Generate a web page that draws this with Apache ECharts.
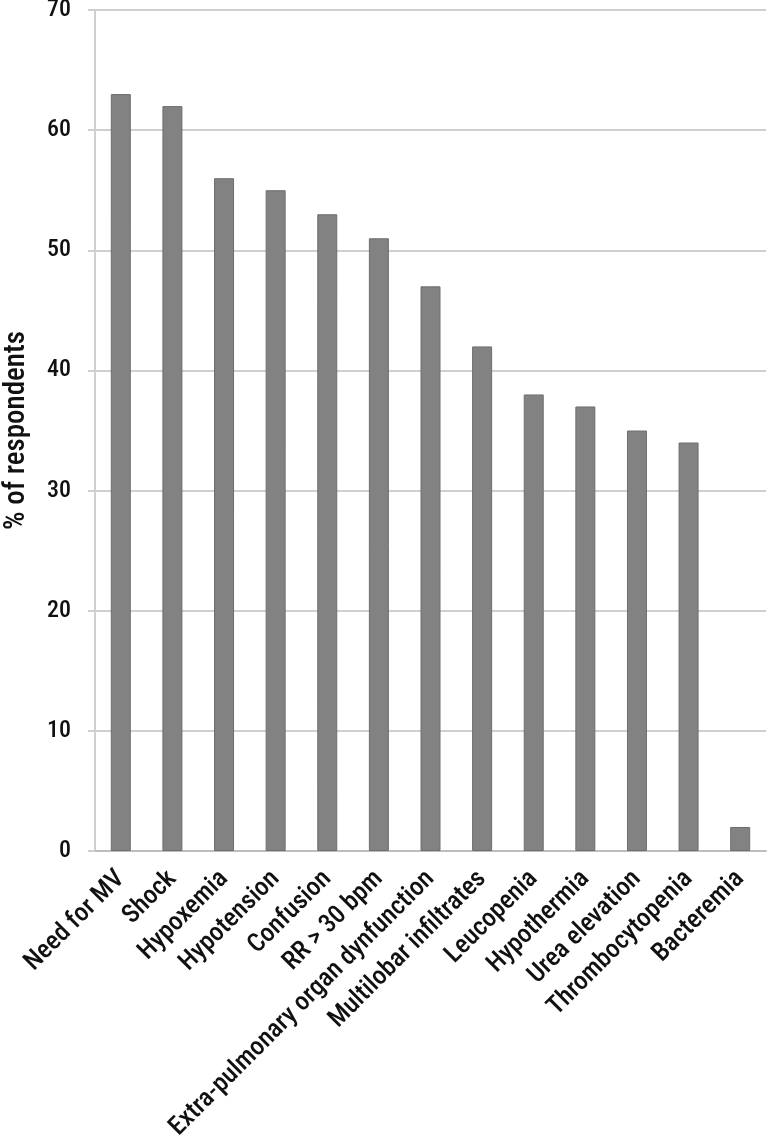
<!DOCTYPE html>
<html>
<head>
<meta charset="utf-8">
<script src="https://cdn.jsdelivr.net/npm/echarts@6/dist/echarts.min.js"></script>
<style>
  html, body { margin: 0; padding: 0; background: #fff; }
  #chart { width: 771px; height: 1138px; }
</style>
</head>
<body>
<div id="chart"></div>
<script>
const categories = [
  'Need for MV', 'Shock', 'Hypoxemia', 'Hypotension', 'Confusion', 'RR > 30 bpm',
  'Extra-pulmonary organ dynfunction', 'Multilobar infiltrates', 'Leucopenia',
  'Hypothermia', 'Urea elevation', 'Thrombocytopenia', 'Bacteremia'
]
const respondents = [63, 62, 56, 55, 53, 51, 47, 42, 38, 37, 35, 34, 2]
const yTicks = { min: 0, max: 70, interval: 10 }

const font = '"Roboto Condensed", "DejaVu Sans Condensed", Roboto, sans-serif'
const chart = echarts.init(document.getElementById('chart'))

chart.setOption({
  animation: false,
  grid: { left: 95, right: 5, top: 10, bottom: 287, outerBoundsMode: 'none', containLabel: false },
  xAxis: {
    type: 'category',
    data: categories,
    axisLine: { lineStyle: { color: '#bdbdbd', width: 2 } },
    axisTick: { show: false },
    axisLabel: {
      interval: 0,
      rotate: 45,
      margin: 24,
      color: '#111',
      fontFamily: font,
      fontWeight: 500,
      fontSize: 26
    }
  },
  yAxis: {
    type: 'value',
    min: yTicks.min,
    max: yTicks.max,
    interval: yTicks.interval,
    name: '% of respondents',
    nameLocation: 'middle',
    nameGap: 64,
    nameTextStyle: { color: '#111', fontFamily: font, fontWeight: 500, fontSize: 29 },
    axisLine: { show: true, lineStyle: { color: '#cfcfcf', width: 2 } },
    axisTick: { show: true, length: 7, lineStyle: { color: '#cfcfcf', width: 2 } },
    axisLabel: { margin: 24, color: '#111', fontFamily: font, fontWeight: 500, fontSize: 24 },
    splitLine: { lineStyle: { color: '#cfcfcf', width: 2 } }
  },
  series: [{
    type: 'bar',
    data: respondents,
    barWidth: 20,
    itemStyle: { color: '#828282', borderColor: '#6e6e6e', borderWidth: 1 }
  }]
})
</script>
</body>
</html>
